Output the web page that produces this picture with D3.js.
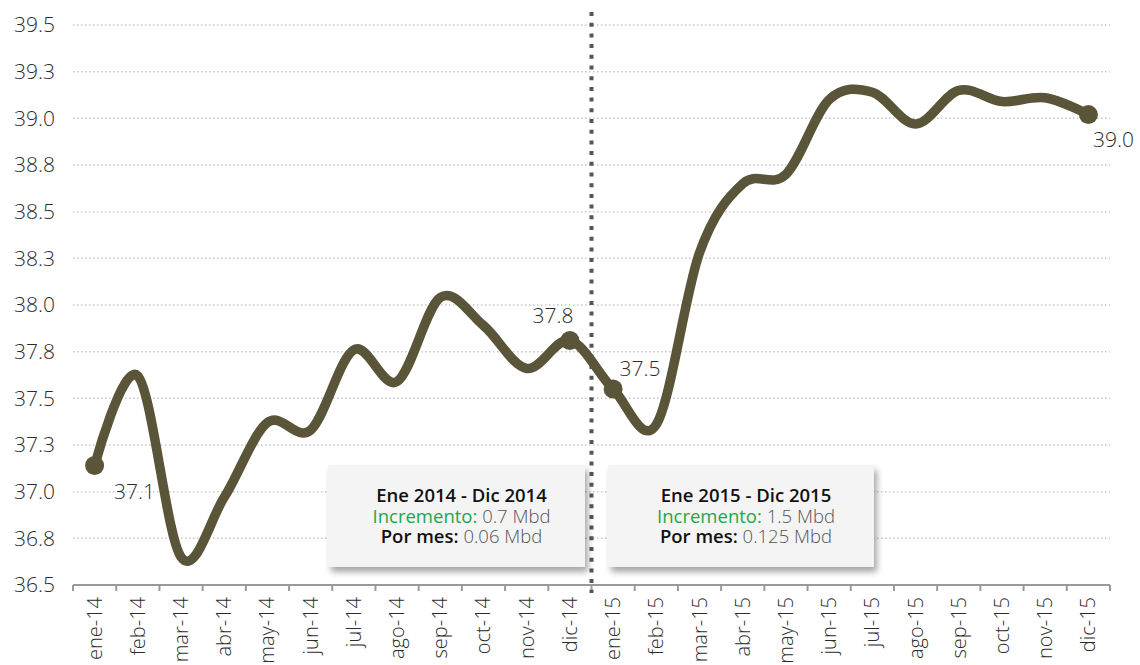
<!DOCTYPE html>
<html>
<head>
<meta charset="utf-8">
<script src="https://cdn.jsdelivr.net/npm/d3@7"></script>
<style>
  html, body { margin: 0; padding: 0; background: #fff; }
  svg { display: block; font-family: "Open Sans", Lato, sans-serif; }
</style>
</head>
<body>
<svg id="chart" width="1140" height="665"></svg>
<script>
// Monthly production, millions of barrels per day (Mbd)
const months = ["ene-14","feb-14","mar-14","abr-14","may-14","jun-14","jul-14","ago-14","sep-14","oct-14","nov-14","dic-14",
                "ene-15","feb-15","mar-15","abr-15","may-15","jun-15","jul-15","ago-15","sep-15","oct-15","nov-15","dic-15"];
const production = [37.14, 37.62, 36.65, 36.97, 37.37, 37.33, 37.76, 37.59, 38.04, 37.89, 37.66, 37.81,
                    37.55, 37.36, 38.28, 38.65, 38.70, 39.10, 39.14, 38.97, 39.15, 39.09, 39.11, 39.02];
const yTicks = [36.5, 36.75, 37.0, 37.25, 37.5, 37.75, 38.0, 38.25, 38.5, 38.75, 39.0, 39.25, 39.5];
// Highlighted points and their value labels
const markedIdx = [0, 11, 12, 23];
const markLabels = [
  { i: 0,  text: "37.1", dx: 40,  dy: 33 },
  { i: 11, text: "37.8", dx: -17, dy: -17 },
  { i: 12, text: "37.5", dx: 27,  dy: -13 },
  { i: 23, text: "39.0", dx: 25,  dy: 32 }
];
const summaries = [
  { title: "Ene 2014 - Dic 2014", inc: "0.7 Mbd", perMonth: "0.06 Mbd" },
  { title: "Ene 2015 - Dic 2015", inc: "1.5 Mbd", perMonth: "0.125 Mbd" }
];

const svg = d3.select("#chart");
const plotLeft = 73, plotRight = 1110, plotTop = 25, plotBottom = 585;
const textColor = "#2b2b2b";

const x = d3.scaleBand().domain(months).range([plotLeft, plotRight]);
const y = d3.scaleLinear().domain([36.5, 39.5]).range([plotBottom, plotTop]);
const cx = i => x(months[i]) + x.bandwidth() / 2;

// Shadow for the summary boxes
const defs = svg.append("defs");
const f = defs.append("filter").attr("id", "shadow").attr("x", "-10%").attr("y", "-10%").attr("width", "130%").attr("height", "140%");
f.append("feDropShadow").attr("dx", 3).attr("dy", 5).attr("stdDeviation", 3).attr("flood-color", "#000").attr("flood-opacity", 0.35);

// Horizontal grid
svg.append("g").selectAll("line").data(yTicks.slice(1)).join("line")
  .attr("x1", plotLeft).attr("x2", plotRight)
  .attr("y1", d => y(d)).attr("y2", d => y(d))
  .attr("stroke", "#c8c8c8").attr("stroke-width", 1.5).attr("stroke-dasharray", "1.5,2.5");

// Y axis labels
const yAxis = d3.axisLeft(y).tickValues(yTicks).tickFormat(d3.format(".1f")).tickSize(0).tickPadding(18);
svg.append("g").attr("transform", `translate(${plotLeft},0)`).call(yAxis)
  .call(g => g.select(".domain").remove())
  .call(g => g.selectAll("text").attr("font-size", 21).attr("font-weight", 300)
    .attr("fill", textColor).attr("font-family", "'Open Sans', sans-serif"));

// X axis: ticks between months, rotated labels
const xAxis = d3.axisBottom(x).tickSize(0).tickPadding(0);
const xg = svg.append("g").attr("transform", `translate(0,${plotBottom})`).call(xAxis);
xg.select(".domain").attr("stroke", "#999").attr("stroke-width", 2).attr("d", `M${plotLeft},0H${plotRight}`);
xg.selectAll(".tick text")
  .attr("font-size", 20).attr("font-weight", 300).attr("fill", textColor).attr("font-family", "'Open Sans', sans-serif")
  .attr("text-anchor", "end").attr("dy", "0.35em").attr("y", 0)
  .attr("transform", "translate(0,12) rotate(-90)");
xg.append("g").selectAll("line").data(d3.range(months.length + 1)).join("line")
  .attr("x1", i => plotLeft + i * x.bandwidth()).attr("x2", i => plotLeft + i * x.bandwidth())
  .attr("y1", 0).attr("y2", 6).attr("stroke", "#999").attr("stroke-width", 2);

// Year divider
const divX = (cx(11) + cx(12)) / 2;
svg.append("line").attr("x1", divX).attr("x2", divX).attr("y1", 12).attr("y2", plotBottom + 8)
  .attr("stroke", "#555").attr("stroke-width", 4).attr("stroke-dasharray", "4,6.7");

// Production line
const line = d3.line().x((d, i) => cx(i)).y(d => y(d)).curve(d3.curveCardinal.tension(0));
svg.append("path").datum(production).attr("d", line)
  .attr("fill", "none").attr("stroke", "#5a5538").attr("stroke-width", 9.5)
  .attr("stroke-linejoin", "round").attr("stroke-linecap", "round");

svg.append("g").selectAll("circle").data(markedIdx).join("circle")
  .attr("cx", i => cx(i)).attr("cy", i => y(production[i])).attr("r", 9.5).attr("fill", "#5a5538");

svg.append("g").selectAll("text").data(markLabels).join("text")
  .attr("x", d => cx(d.i) + d.dx).attr("y", d => y(production[d.i]) + d.dy)
  .attr("text-anchor", "middle").attr("font-size", 21).attr("font-weight", 300).attr("fill", textColor)
  .text(d => d.text);

// Summary boxes
const boxX = [328, 608], boxW = [257, 266], boxH = 102, boxY = 465;
const boxes = svg.append("g").selectAll("g").data(summaries).join("g")
  .attr("transform", (d, k) => `translate(${boxX[k]},${boxY})`);
boxes.append("rect").attr("width", (d, k) => boxW[k]).attr("height", boxH)
  .attr("fill", "#f4f4f4").attr("filter", "url(#shadow)");

// A centred line built from coloured segments, each its own <text>
function centredLine(g, mid, yy, parts) {
  const nodes = parts.map(p => g.append("text").attr("y", yy).attr("font-size", 18.5)
    .attr("fill", p.color).attr("font-weight", p.weight).text(p.text));
  const widths = nodes.map(n => n.node().getComputedTextLength());
  let xPos = mid - d3.sum(widths) / 2;
  nodes.forEach((n, j) => { n.attr("x", xPos); xPos += widths[j]; });
}
boxes.each(function (d, k) {
  const g = d3.select(this);
  const mid = boxW[k] / 2 + 5;
  centredLine(g, mid, 37, [{ text: d.title, color: "#111", weight: 600 }]);
  centredLine(g, mid, 57.5, [
    { text: "Incremento:\u00a0", color: "#1aa84a", weight: 400 },
    { text: d.inc, color: "#555", weight: 300 }
  ]);
  centredLine(g, mid, 78, [
    { text: "Por mes:\u00a0", color: "#111", weight: 600 },
    { text: d.perMonth, color: "#555", weight: 300 }
  ]);
});
</script>
</body>
</html>
